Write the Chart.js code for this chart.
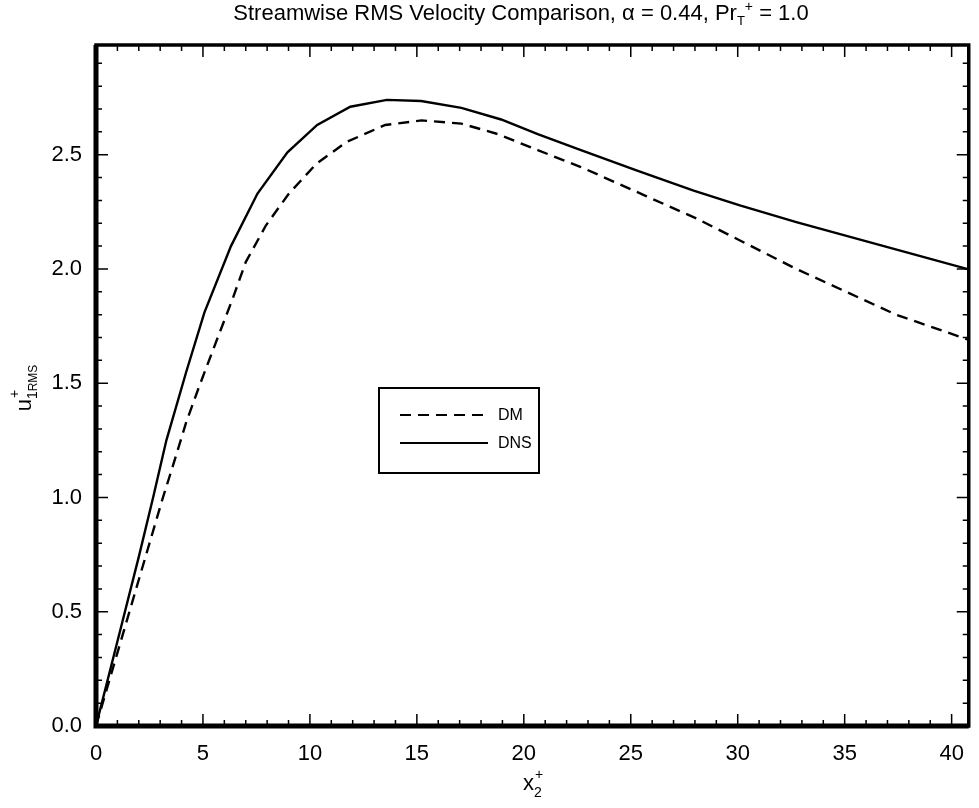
<!DOCTYPE html>
<html>
<head>
<meta charset="utf-8">
<title>Streamwise RMS Velocity Comparison</title>
<script src="https://cdn.jsdelivr.net/npm/chart.js@4.4.1/dist/chart.umd.min.js"></script>
<style>
  html, body { margin: 0; padding: 0; background: #fff; }
  #wrap { width: 979px; height: 808px; }
</style>
</head>
<body>
<div id="wrap"><canvas id="chart" width="979" height="808"></canvas></div>
<script>
// ========================== DATA ==========================
// DM model curve (dashed)
const dmX = [0, 1, 2, 3.13, 3.6, 4.22, 4.84, 5.61, 6.39, 7.0, 7.94, 9.02, 10.3, 11.7, 13.52, 15.22, 17.08, 18.79, 20.65, 22.67, 25.69, 28.09, 32.74, 37.4, 40.8];
const dmY = [0, 0.32, 0.64, 1.0, 1.14, 1.33, 1.49, 1.68, 1.87, 2.03, 2.19, 2.33, 2.46, 2.555, 2.63, 2.65, 2.636, 2.59, 2.52, 2.446, 2.32, 2.22, 2.0, 1.80, 1.69];

// DNS curve (solid)
const dnsX = [0, 1, 2, 2.67, 3.29, 4.22, 5.07, 6.31, 7.55, 8.95, 10.34, 11.89, 13.6, 15.2, 17.08, 18.94, 20.65, 22.67, 25.3, 27.94, 30.1, 32.74, 36.15, 40.8];
const dnsY = [0, 0.37, 0.74, 1.0, 1.25, 1.55, 1.81, 2.10, 2.33, 2.51, 2.63, 2.71, 2.74, 2.735, 2.705, 2.654, 2.59, 2.52, 2.43, 2.343, 2.278, 2.205, 2.117, 1.998];

// axis ticks
const xTicks = [0, 5, 10, 15, 20, 25, 30, 35, 40];
const yTicks = [0, 0.5, 1.0, 1.5, 2.0, 2.5];
const xMinor = Array.from({ length: 41 }, (_, i) => i);
const yMinor = Array.from({ length: 30 }, (_, i) => +(i * 0.1).toFixed(1));

const labels = ["DM", "DNS"];

// ========================== HELPERS ==========================
const FONT = "'Liberation Sans', Arial, Helvetica, sans-serif";

function toPoints(xs, ys) {
  return xs.map((x, i) => ({ x, y: ys[i] }));
}

// width of text made of pieces (sub/superscripts)
function richWidth(ctx, parts) {
  let w = 0;
  parts.forEach(p => {
    ctx.font = p.s + "px " + FONT;
    if (!p.stack) w += ctx.measureText(p.t).width;
  });
  return w;
}

function drawRich(ctx, parts, x, y) {
  let cx = x;
  parts.forEach(p => {
    ctx.font = p.s + "px " + FONT;
    ctx.fillText(p.t, cx + (p.dx || 0), y + (p.dy || 0));
    if (!p.stack) cx += ctx.measureText(p.t).width;
  });
}

// ========================== PLUGIN ==========================
const framePlugin = {
  id: "frame",
  afterDraw(chart) {
    const { ctx, chartArea: a, scales } = chart;
    const xs = scales.x, ys = scales.y;
    ctx.save();
    ctx.strokeStyle = "#000";
    ctx.fillStyle = "#000";

    // inward ticks on all four sides
    ctx.lineWidth = 1.5;
    xMinor.forEach(v => {
      const px = xs.getPixelForValue(v);
      const len = v % 5 === 0 ? 12 : 6;
      ctx.beginPath();
      ctx.moveTo(px, a.bottom); ctx.lineTo(px, a.bottom - len);
      ctx.moveTo(px, a.top); ctx.lineTo(px, a.top + len);
      ctx.stroke();
    });
    yMinor.forEach(v => {
      const py = ys.getPixelForValue(v);
      const len = Math.round(v * 10) % 5 === 0 ? 12 : 6;
      ctx.beginPath();
      ctx.moveTo(a.left, py); ctx.lineTo(a.left + len, py);
      ctx.moveTo(a.right, py); ctx.lineTo(a.right - len, py);
      ctx.stroke();
    });

    // frame (left/bottom a bit heavier, like the scan)
    ctx.lineWidth = 3.5;
    ctx.strokeRect(a.left, a.top, a.right - a.left, a.bottom - a.top);
    ctx.lineWidth = 5;
    ctx.beginPath();
    ctx.moveTo(a.left, a.top); ctx.lineTo(a.left, a.bottom); ctx.lineTo(a.right, a.bottom);
    ctx.stroke();

    // legend box
    const lx = a.left + 283, ly = a.top + 343;
    ctx.lineWidth = 2;
    ctx.strokeRect(lx, ly, 160, 85);
    ctx.textBaseline = "middle";
    ctx.textAlign = "left";
    chart.data.datasets.forEach((ds, i) => {
      const yy = ly + 27 + i * 28;
      ctx.save();
      ctx.lineWidth = 2;
      ctx.setLineDash(ds.borderDash || []);
      ctx.beginPath();
      ctx.moveTo(lx + 21, yy); ctx.lineTo(lx + 109, yy);
      ctx.stroke();
      ctx.restore();
      ctx.font = "16px " + FONT;
      ctx.fillText(ds.label, lx + 119, yy + 1);
    });

    // title
    ctx.textBaseline = "alphabetic";
    const title = [
      { t: "Streamwise RMS Velocity Comparison, \u03b1 = 0.44, Pr", s: 22 },
      { t: "T", s: 13, dy: 5 },
      { t: "+", s: 14, dy: -9 },
      { t: " = 1.0", s: 22 }
    ];
    drawRich(ctx, title, 521 - richWidth(ctx, title) / 2, 20);

    // x axis title
    const xt = [
      { t: "x", s: 22 },
      { t: "+", s: 14, dy: -11, stack: true, dx: 1 },
      { t: "2", s: 14, dy: 7 }
    ];
    drawRich(ctx, xt, (a.left + a.right) / 2 - richWidth(ctx, xt) / 2, 790);

    // y axis title (rotated)
    const yt = [
      { t: "u", s: 22 },
      { t: "+", s: 14, dy: -12, stack: true, dx: 1 },
      { t: "1", s: 14, dy: 6 },
      { t: "RMS", s: 12, dy: 6 }
    ];
    ctx.translate(31, 388);
    ctx.rotate(-Math.PI / 2);
    drawRich(ctx, yt, -richWidth(ctx, yt) / 2, 0);

    ctx.restore();
  }
};

// ========================== CHART ==========================
new Chart(document.getElementById("chart"), {
  type: "line",
  data: {
    datasets: [
      {
        label: labels[0],
        data: toPoints(dmX, dmY),
        borderColor: "#000",
        borderWidth: 2.4,
        borderDash: [11, 7],
        pointRadius: 0,
        tension: 0,
        fill: false
      },
      {
        label: labels[1],
        data: toPoints(dnsX, dnsY),
        borderColor: "#000",
        borderWidth: 2.4,
        pointRadius: 0,
        tension: 0,
        fill: false
      }
    ]
  },
  options: {
    responsive: false,
    devicePixelRatio: 1,
    animation: false,
    layout: { padding: { top: 45, right: 7, left: 0, bottom: 0 } },
    plugins: {
      legend: { display: false },
      title: { display: false },
      tooltip: { enabled: false }
    },
    scales: {
      x: {
        type: "linear",
        min: 0,
        max: 40.8,
        grid: { display: false, drawTicks: false },
        border: { display: false },
        afterBuildTicks: s => { s.ticks = xTicks.map(v => ({ value: v })); },
        afterFit: s => { s.height = 82; },
        ticks: {
          color: "#000",
          padding: 15,
          maxRotation: 0,
          font: { family: FONT, size: 22 },
          callback: v => String(v)
        }
      },
      y: {
        type: "linear",
        min: 0,
        max: 2.98,
        grid: { display: false, drawTicks: false },
        border: { display: false },
        afterBuildTicks: s => { s.ticks = yTicks.map(v => ({ value: v })); },
        afterFit: s => { s.width = 96; },
        ticks: {
          color: "#000",
          padding: 14,
          font: { family: FONT, size: 22 },
          callback: v => v.toFixed(1)
        }
      }
    }
  },
  plugins: [framePlugin]
});
</script>
</body>
</html>
